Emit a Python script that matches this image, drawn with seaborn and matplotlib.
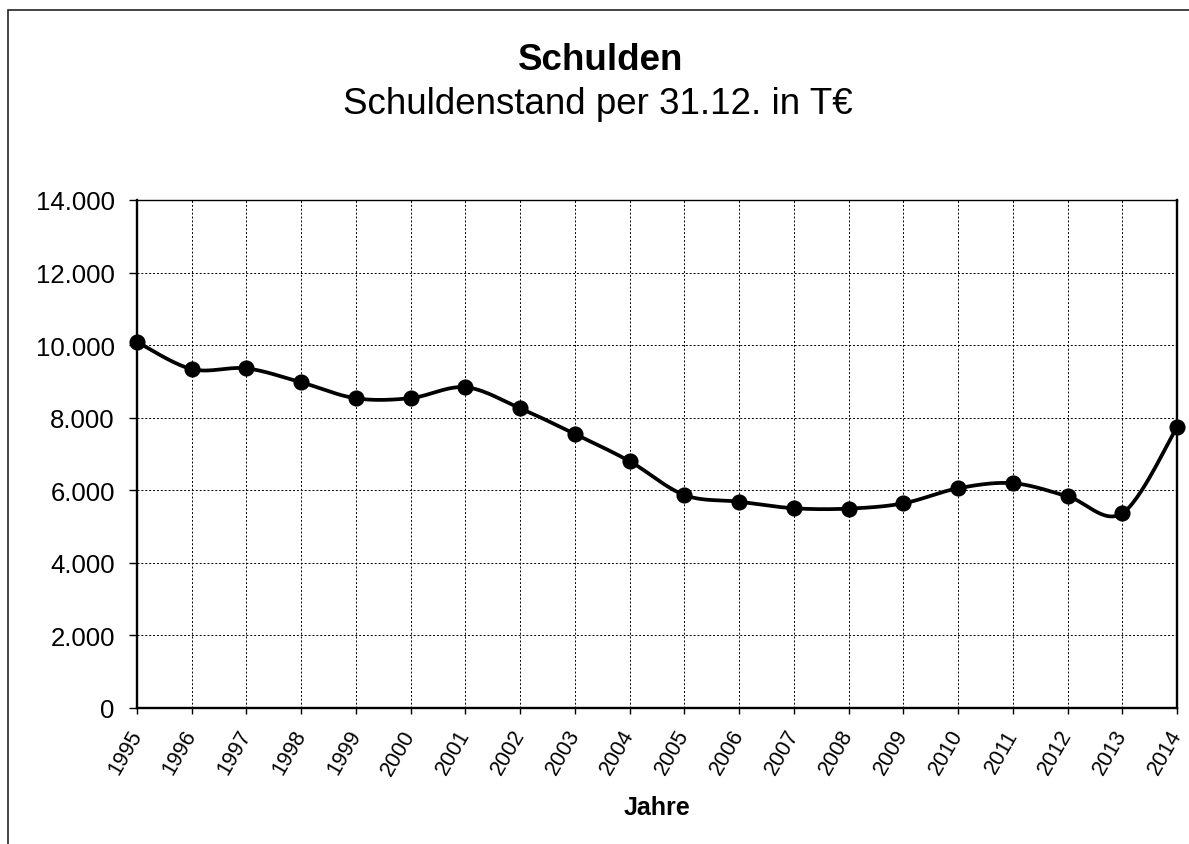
import numpy as np
import pandas as pd
import matplotlib
matplotlib.use("Agg")
import matplotlib.pyplot as plt
import matplotlib.ticker as mticker
from matplotlib.patches import Rectangle
import seaborn as sns

# ---- data ----
years = [1995, 1996, 1997, 1998, 1999, 2000, 2001, 2002, 2003, 2004,
         2005, 2006, 2007, 2008, 2009, 2010, 2011, 2012, 2013, 2014]
debt = [10090, 9340, 9360, 8975, 8535, 8540, 8840, 8260, 7550, 6800,
        5870, 5685, 5505, 5495, 5640, 6055, 6195, 5835, 5365, 7735]
title = "Schulden"
subtitle = "Schuldenstand per 31.12. in T\u20ac"
xlabel = "Jahre"
yticks = [0, 2000, 4000, 6000, 8000, 10000, 12000, 14000]

sns.set_theme(style="white")
plt.rcParams['font.family'] = ['Liberation Sans', 'DejaVu Sans']
plt.rcParams['text.color'] = 'black'
plt.rcParams['xtick.color'] = 'black'
plt.rcParams['ytick.color'] = 'black'

W, H = 1189, 845
fig = plt.figure(figsize=(W / 100, H / 100), dpi=100)
ax = fig.add_axes([137 / W, 1 - 709 / H, (1177 - 137) / W, (709 - 201) / H])

# smoothed line (Excel-style Catmull-Rom Bezier) built from the data
x = np.array(years, dtype=float)
y = np.array(debt, dtype=float)
xs, ys = [], []
n = len(x)
t = np.linspace(0, 1, 30)
for i in range(n - 1):
    p0 = np.array([x[max(i - 1, 0)], y[max(i - 1, 0)]])
    p1 = np.array([x[i], y[i]])
    p2 = np.array([x[i + 1], y[i + 1]])
    p3 = np.array([x[min(i + 2, n - 1)], y[min(i + 2, n - 1)]])
    c1 = p1 + (p2 - p0) / 6
    c2 = p2 - (p3 - p1) / 6
    pts = ((1 - t) ** 3)[:, None] * p1 + (3 * (1 - t) ** 2 * t)[:, None] * c1 \
        + (3 * (1 - t) * t ** 2)[:, None] * c2 + (t ** 3)[:, None] * p2
    xs.extend(pts[:, 0])
    ys.extend(pts[:, 1])
curve = pd.DataFrame({"x": xs, "y": ys})
pts_df = pd.DataFrame({"Jahr": years, "Schulden": debt})

sns.lineplot(data=curve, x="x", y="y", sort=False, estimator=None,
             color="black", linewidth=2.7, ax=ax, zorder=3)
sns.scatterplot(data=pts_df, x="Jahr", y="Schulden", color="black",
                s=135, edgecolor="black", linewidth=0, ax=ax, zorder=4,
                clip_on=False)

ax.set_xlim(1995, 2014)
ax.set_ylim(0, 14000)
ax.set_xticks(years)
ax.set_yticks(yticks)
ax.yaxis.set_major_formatter(mticker.FuncFormatter(
    lambda v, p: f"{int(v):,}".replace(",", ".")))
ax.set_xticklabels([str(v) for v in years], rotation=60, ha="right",
                   va="center", rotation_mode="anchor")
ax.tick_params(axis="x", direction="out", length=4.5, width=1, color="black",
               labelsize=15.5, labelcolor="black", pad=12, bottom=True)
ax.tick_params(axis="y", direction="out", length=6, width=1, color="black",
               labelsize=18.5, labelcolor="black", pad=10, left=True)
ax.grid(True, color="black", linestyle=(0, (2, 2)), linewidth=0.7)
for s in ["left", "bottom", "right"]:
    ax.spines[s].set_color("black")
    ax.spines[s].set_linewidth(1.7)
ax.spines["top"].set_color("black")
ax.spines["top"].set_linewidth(1.0)

ax.set_xlabel("")
ax.set_ylabel("")
fig.text(0.5 * (137 + 1177) / W, 1 - 808 / H, xlabel, ha="center", va="center",
         fontsize=18, fontweight="bold", color="black")
fig.text(601 / W, 1 - 60 / H, title, ha="center", va="center",
         fontsize=26.5, fontweight="bold", color="black")
fig.text(598 / W, 1 - 104 / H, subtitle, ha="center",
         va="center", fontsize=26.5, color="black")

fig.patches.append(Rectangle((8 / W, -0.1), 1.2, 1 - 11 / H + 0.1,
                             transform=fig.transFigure, fill=False,
                             edgecolor="#222222", linewidth=1.2))

fig.savefig("out.png", dpi=100)
